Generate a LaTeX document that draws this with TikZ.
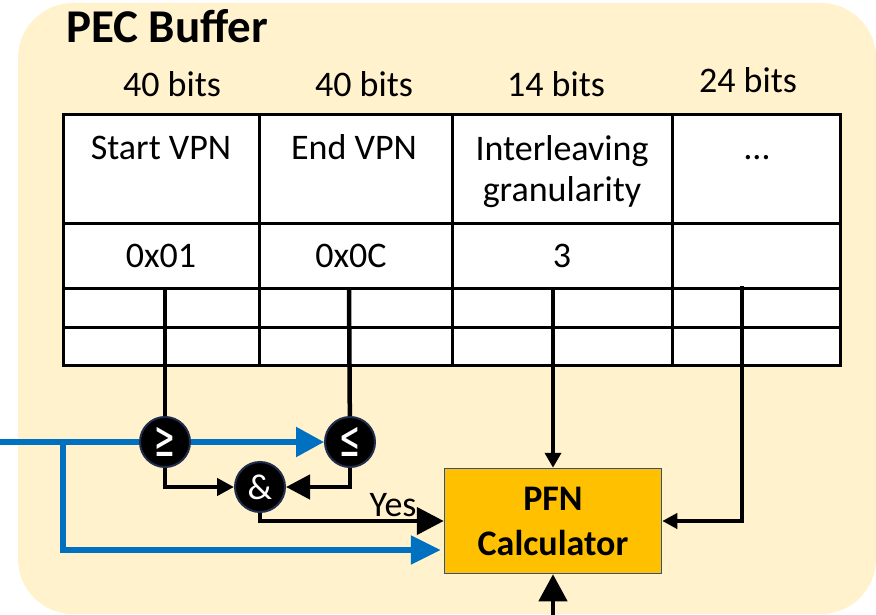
\documentclass[tikz,border=0pt]{standalone}
\usepackage{fontspec}
\setmainfont{Carlito}
\newfontfamily\symfont{DejaVu Sans}
\usetikzlibrary{positioning,arrows.meta}
\definecolor{bufbg}{HTML}{FFF2CC}
\definecolor{pfnfill}{HTML}{FFC000}
\definecolor{pfnedge}{HTML}{2F528F}
\definecolor{sigblue}{HTML}{0070C0}
\definecolor{opedge}{HTML}{1F2D4E}

\begin{document}
\begin{tikzpicture}[x=1pt, y=-1pt,
        txt/.style={font=\fontsize{36}{33}\selectfont, inner sep=0pt, anchor=base},
        op/.style={circle, fill=black, draw=opedge, line width=2pt,
          minimum size=50pt, inner sep=0pt, text=white},
        cmp/.style={op, font=\symfont\fontsize{50}{50}\selectfont},
        calc/.style={draw=pfnedge, fill=pfnfill, line width=1.5pt, align=center,
          minimum width=217pt, minimum height=105pt, inner sep=0pt,
          font=\bfseries\fontsize{36}{45}\selectfont},
        wire/.style={draw=black, line width=4.5pt},
        bwire/.style={draw=sigblue, line width=5.5pt}]
      \useasboundingbox (0,0) rectangle (876,615);
      \fill[bufbg, rounded corners=55pt] (18,3) rectangle (876,614);
      \node[anchor=base west, inner sep=0pt, font=\bfseries\fontsize{47}{50}\selectfont]
        (title) at (66,43) {PEC Buffer};
      \filldraw[fill=white, draw=black, line width=3pt] (63,115) rectangle (840,365);
      \foreach \y in {223,288,327}
        \draw[line width=3pt] (63,\y) -- (840,\y);
      \foreach \x in {259,452,672}
        \draw[line width=3pt] (\x,115) -- (\x,365);
      \node[txt] (w1) at (172,97) {40 bits};
      \node[txt] (w2) at (364,97) {40 bits};
      \node[txt] (w3) at (556,97) {14 bits};
      \node[txt] (w4) at (748,93) {24 bits};
      \node[txt] (f1) at (161,160) {Start VPN};
      \node[txt] (f2) at (354,160) {End VPN};
      \node[txt, align=center, font=\fontsize{36}{41}\selectfont]
        (f3) at (562,201) {Interleaving\\granularity};
      \node[txt] (f4) at (757,160) {…};
      \node[txt] (v1) at (161,267) {0x01};
      \node[txt] (v2) at (351,267) {0x0C};
      \node[txt] (v3) at (562,267) {3};
      \coordinate (s1) at (165,290);
      \coordinate (s2) at (349,290);
      \coordinate (s3) at (553,290);
      \coordinate (s4) at (742,286);
      \node[cmp] (ge) at (165,442) {\scalebox{0.5}[1]{≥}};
      \node[cmp] (le) at (350,442) {\scalebox{0.5}[1]{≤}};
      \node[op, font=\fontsize{36}{36}\selectfont] (and) at (260,487) {\&};
      \node[calc] (pfn) at (553,521) {PFN\\Calculator};
      \node[txt] (yes) at (393,516) {Yes};
      \coordinate (in) at (0,442);
      \coordinate (tap) at (63,442);
      \coordinate (feed) at (553,615);
      \draw[wire] (s1) -- (ge);
      \draw[wire] (s2) -- (le);
      \draw[wire, -{Triangle[length=15pt,width=16pt]}] (s3) -- (pfn);
      \draw[wire, -{Triangle[length=15pt,width=15pt]}] (s4) |- (pfn.east);
      \draw[wire, -{Triangle[length=17pt,width=17pt]}] (ge) |- (and);
      \draw[wire, -{Triangle[length=24pt,width=24pt]}] (le) |- (and);
      \draw[wire, -{Triangle[length=27pt,width=27pt]}] (and) |- (pfn.west);
      \draw[wire, -{Triangle[length=27pt,width=28pt]}] (feed) -- (pfn);
      \draw[bwire] (in) -- (ge);
      \draw[bwire, -{Triangle[length=28pt,width=29pt]}] (ge) -- (le);
      \draw[bwire, -{Triangle[length=30pt,width=28pt]}] (tap) |- ([yshift=-29pt, xshift=-3pt]pfn.west);
\end{tikzpicture}
\end{document}
